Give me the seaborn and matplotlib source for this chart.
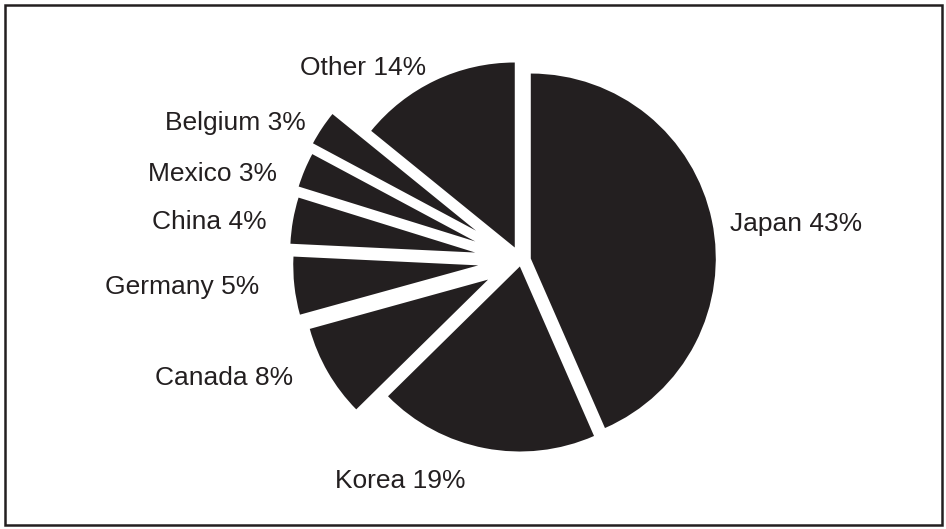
import matplotlib
matplotlib.use("Agg")
import matplotlib.pyplot as plt
from matplotlib.patches import Rectangle
import seaborn as sns

# Import shares by country (percent)
countries = ["Japan", "Korea", "Canada", "Germany", "China", "Mexico", "Belgium", "Other"]
shares = [43, 19, 8, 5, 4, 3, 3, 14]

sns.set_theme(style="white")
plt.rcParams["font.family"] = ["Liberation Sans", "DejaVu Sans"]

W, H = 946, 529
fig = plt.figure(figsize=(W / 100, H / 100), dpi=100)
ax = fig.add_axes([0, 0, 1, 1])

ink = "#231f20"
radius = 185
center = (521, H - 260.6)
# how far each wedge is pulled away from the centre (pixels)
offsets = [10, 6, 38, 43, 46.5, 49.5, 54, 14.5]
# label anchor (left edge, baseline) in pixels from the top-left corner
label_pos = [(730, 231), (335, 488), (155, 385), (105, 294),
             (152, 229), (148, 181), (165, 130), (300, 75)]

labels = [f"{c} {s}%" for c, s in zip(countries, shares)]
wedges, texts = ax.pie(
    shares, labels=labels, explode=offsets, radius=radius, center=center,
    startangle=90, counterclock=False, colors=[ink] * len(shares),
    wedgeprops=dict(linewidth=0),
    textprops=dict(fontsize=19, color=ink),
)
for t, (px, py) in zip(texts, label_pos):
    t.set_position((px, H - py))
    t.set_ha("left")
    t.set_va("baseline")

ax.set_xlim(0, W)
ax.set_ylim(0, H)
ax.set_aspect("equal")
ax.axis("off")

# outer frame
ax.add_patch(Rectangle((4.5, 4.5), W - 9, H - 9, fill=False,
                       edgecolor=ink, linewidth=1.8, clip_on=False))

fig.savefig("out.png", dpi=100)
